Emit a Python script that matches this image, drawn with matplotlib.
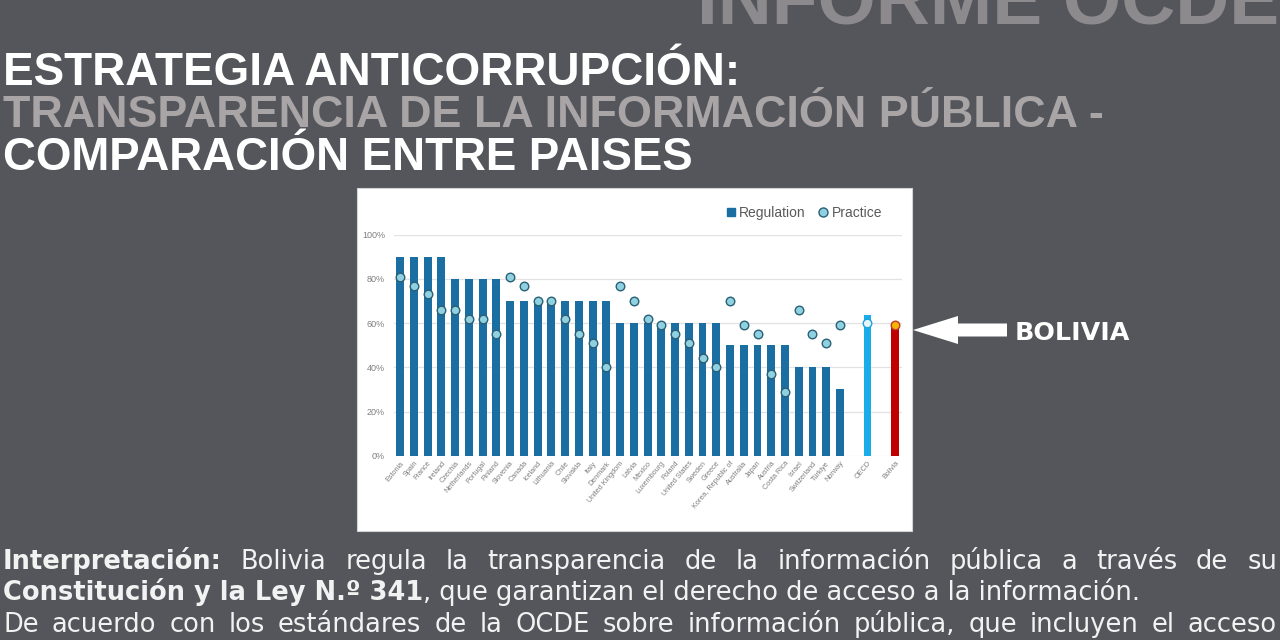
import numpy as np
import matplotlib
matplotlib.use("Agg")
import matplotlib.pyplot as plt
from matplotlib.patches import Rectangle, Polygon
from matplotlib.lines import Line2D

# ---------------- data ----------------
countries = ["Estonia", "Spain", "France", "Ireland", "Czechia", "Netherlands", "Portugal",
             "Finland", "Slovenia", "Canada", "Iceland", "Lithuania", "Chile", "Slovakia",
             "Italy", "Denmark", "United Kingdom", "Latvia", "Mexico", "Luxembourg", "Poland",
             "United States", "Sweden", "Greece", "Korea, Republic of", "Australia", "Japan",
             "Austria", "Costa Rica", "Israel", "Switzerland", "Türkiye", "Norway"]
regulation = [90, 90, 90, 90, 80, 80, 80, 80, 70, 70, 70, 70, 70, 70, 70, 70,
              60, 60, 60, 60, 60, 60, 60, 60, 50, 50, 50, 50, 50, 40, 40, 40, 30]
practice = [81, 77, 73, 66, 66, 62, 62, 55, 81, 77, 70, 70, 62, 55, 51, 40,
            77, 70, 62, 59, 55, 51, 44, 40, 70, 59, 55, 37, 29, 66, 55, 51, 59]
oecd_label = "OECD"
oecd_regulation = 63.5
oecd_practice = 60
bolivia_label = "Bolivia"
bolivia_regulation = 60
bolivia_practice = 59
yticks = [0, 20, 40, 60, 80, 100]
ytick_labels = ["0%", "20%", "40%", "60%", "80%", "100%"]

title_lines = ["ESTRATEGIA ANTICORRUPCIÓN:",
               "TRANSPARENCIA DE LA INFORMACIÓN PÚBLICA -",
               "COMPARACIÓN ENTRE PAISES"]
header_text = "INFORME OCDE"
callout_text = "BOLIVIA"
body_line1 = [("Interpretación:", "bold")] + [(w, "normal") for w in
              "Bolivia regula la transparencia de la información pública a través de su".split()]
body_line2_bold = "Constitución y la Ley N.º 341"
body_line2_rest = ", que garantizan el derecho de acceso a la información."
body_line3 = [(w, "normal") for w in
              "De acuerdo con los estándares de la OCDE sobre información pública, que incluyen el acceso".split()]

# ---------------- style ----------------
BG = "#54565b"
BLUE = "#1b6ea2"
LIGHTBLUE = "#18ade8"
RED = "#c00000"
DOT_FILL = "#8fd1e0"
DOT_EDGE = "#2a5f75"
TICK_GRAY = "#7f7f7f"
TITLE_FONT = "Liberation Sans"
BODY_FONT = "DejaVu Sans"

W, H = 1280, 640
fig = plt.figure(figsize=(W / 100, H / 100), dpi=100, facecolor=BG)
renderer = fig.canvas.get_renderer()

bg = fig.add_axes([0, 0, 1, 1])
bg.set_xlim(0, W)
bg.set_ylim(H, 0)
bg.axis("off")
bg.set_zorder(0)


def fit_text(x, y, s, target_w, family, weight, color, base=30):
    t = bg.text(x, y, s, fontsize=base, family=family, weight=weight, color=color,
                ha="left", va="baseline")
    w = t.get_window_extent(renderer).width
    t.set_fontsize(base * target_w / w)
    return t


# header & titles
fit_text(697, 23, header_text, 583, TITLE_FONT, "bold", "#8c8a8d", base=60)
fit_text(3, 85, title_lines[0], 737, TITLE_FONT, "bold", "white", base=40)
fit_text(3, 127, title_lines[1], 1100, TITLE_FONT, "bold", "#a9a4a5", base=40)
fit_text(3, 170, title_lines[2], 690, TITLE_FONT, "bold", "white", base=40)

# white chart panel
bg.add_patch(Rectangle((357, 188), 555, 343, facecolor="white", edgecolor="#d4d4d4", lw=0.8))

# arrow and callout
bg.add_patch(Polygon([(913, 330), (958, 316), (958, 323.5), (1007, 323.5),
                      (1007, 336.5), (958, 336.5), (958, 344)],
                     closed=True, facecolor="white", edgecolor="none"))
fit_text(1015, 340, callout_text, 115, BODY_FONT, "bold", "white", base=20)

# body text
TXT = "#f2f2f2"
probe_b = bg.text(0, 0, body_line2_bold, fontsize=20, family=BODY_FONT, weight="bold")
probe_r = bg.text(0, 0, body_line2_rest, fontsize=20, family=BODY_FONT)
w2 = probe_b.get_window_extent(renderer).width + probe_r.get_window_extent(renderer).width
probe_b.remove()
probe_r.remove()
body_size = 20 * 1137 / w2

t = bg.text(3, 600, body_line2_bold, fontsize=body_size, family=BODY_FONT, weight="bold",
            color=TXT, va="baseline")
wb = t.get_window_extent(renderer).width
bg.text(3 + wb, 600, body_line2_rest, fontsize=body_size, family=BODY_FONT, color=TXT,
        va="baseline")


def justify(tokens, y, x0, x1):
    texts = [bg.text(0, y, s, fontsize=body_size, family=BODY_FONT, weight=wt, color=TXT,
                     va="baseline") for s, wt in tokens]
    widths = [tx.get_window_extent(renderer).width for tx in texts]
    gap = (x1 - x0 - sum(widths)) / (len(texts) - 1)
    x = x0
    for tx, w in zip(texts, widths):
        tx.set_x(x)
        x += w + gap


justify(body_line1, 569, 3, 1277)
justify(body_line3, 632, 3, 1277)

# ---------------- chart ----------------
ax = fig.add_axes([394 / W, (H - 455.7) / H, 508 / W, 221 / H])
ax.set_zorder(2)
ax.patch.set_alpha(0)

x = np.arange(len(countries))
x_oecd = len(countries) + 1
x_bol = len(countries) + 3

ax.bar(x, regulation, width=0.58, color=BLUE, zorder=2)
ax.bar([x_oecd], [oecd_regulation], width=0.58, color=LIGHTBLUE, zorder=2)
ax.bar([x_bol], [bolivia_regulation], width=0.56, color=RED, zorder=2)

ax.scatter(x, practice, s=38, facecolor=DOT_FILL, edgecolor=DOT_EDGE, linewidth=1.0,
           zorder=3, clip_on=False)
ax.scatter([x_oecd], [oecd_practice], s=38, facecolor="#e6f5fb", edgecolor="#1aa3dd",
           linewidth=1.0, zorder=3, clip_on=False)
ax.scatter([x_bol], [bolivia_practice], s=38, facecolor="#f5b400", edgecolor="#c0392b",
           linewidth=1.0, zorder=3, clip_on=False)

ax.set_xlim(-0.44, 36.51)
ax.set_ylim(0, 100)
ax.set_yticks(yticks)
ax.set_yticklabels(ytick_labels, fontsize=6.5, color=TICK_GRAY, family="Liberation Sans")
ax.yaxis.grid(True, color="#e2e2e2", linewidth=0.9, zorder=0)
ax.set_axisbelow(True)
for sp in ax.spines.values():
    sp.set_visible(False)
ax.tick_params(axis="both", length=0)
ax.tick_params(axis="y", pad=6.5)
ax.tick_params(axis="x", pad=3)

ax.set_xticks(list(x) + [x_oecd, x_bol])
ax.set_xticklabels(countries + [oecd_label, bolivia_label], rotation=50, ha="right",
                   rotation_mode="anchor", fontsize=5.2, color=TICK_GRAY,
                   family="Liberation Sans")

handles = [Line2D([], [], marker="s", linestyle="none", markersize=6, color=BLUE),
           Line2D([], [], marker="o", linestyle="none", markersize=6.5,
                  markerfacecolor=DOT_FILL, markeredgecolor=DOT_EDGE, markeredgewidth=1.0)]
ax.legend(handles, ["Regulation", "Practice"], ncol=2, frameon=False, loc="center",
          bbox_to_anchor=(804 / W, 1 - 213 / H), bbox_transform=fig.transFigure,
          handlelength=0.7, handletextpad=0.25, columnspacing=0.9,
          labelcolor="#595959", prop={"family": "Liberation Sans", "size": 10})

fig.savefig("out.png", dpi=100, facecolor=BG)
